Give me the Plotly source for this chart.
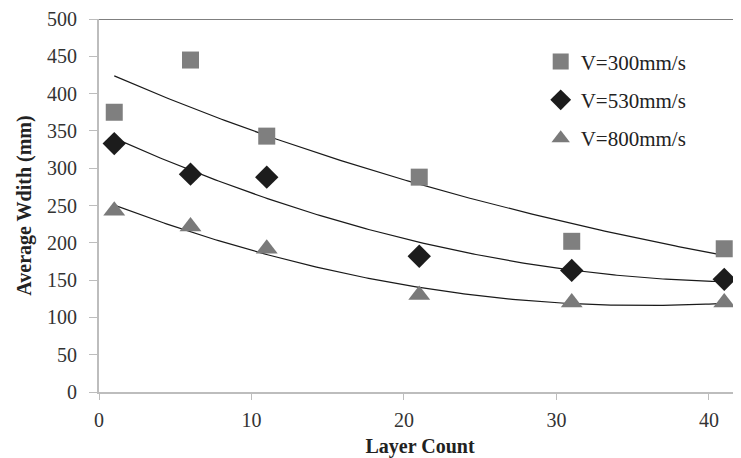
import numpy as np
import plotly.graph_objects as go

layers = [1, 6, 11, 21, 31, 41]
v300 = [375, 445, 343, 288, 202, 192]
v530 = [333, 292, 288, 182, 163, 151]
v800 = [243, 222, 192, 130, 120, 120]

names = ["V=300mm/s", "V=530mm/s", "V=800mm/s"]
series = [v300, v530, v800]
fit_types = ["exp", "poly2", "poly2"]
symbols = ["square", "diamond", "triangle-up"]
colors = ["#7f7f7f", "#1c1c1c", "#7a7a7a"]
sizes = [17, 18, 19]

font_family = "Liberation Serif, Times New Roman, serif"

fig = go.Figure()

xs = np.linspace(min(layers), max(layers), 200)
for vals, ft in zip(series, fit_types):
    if ft == "exp":
        c = np.polyfit(layers, np.log(vals), 1)
        ys = np.exp(np.polyval(c, xs))
    else:
        c = np.polyfit(layers, vals, 2)
        ys = np.polyval(c, xs)
    fig.add_trace(go.Scatter(x=xs, y=ys, mode="lines",
                             line=dict(color="#1a1a1a", width=1.2),
                             showlegend=False, hoverinfo="skip"))

for i, (n, vals, s, col, sz) in enumerate(zip(names, series, symbols, colors, sizes)):
    fig.add_trace(go.Scatter(x=layers, y=vals, mode="markers", name=n,
                             legendgroup=f"g{i}",
                             marker=dict(symbol=s, color=col, size=sz,
                                         line=dict(width=0))))

# the page body has an 8px margin, so the figure is 8px smaller on each side
fig.update_layout(
    width=733, height=450,
    margin=dict(l=91, r=0, t=11, b=66, autoexpand=False),
    paper_bgcolor="white", plot_bgcolor="white",
    font=dict(family=font_family, size=20, color="#333333"),
    legend=dict(x=0.688, y=0.94, xanchor="left", yanchor="top",
                font=dict(size=21, color="#222222"),
                bgcolor="rgba(0,0,0,0)", traceorder="grouped",
                tracegroupgap=8, itemwidth=30),
    xaxis=dict(range=[0, 42.1], tickvals=[0, 10, 20, 30, 40],
               showgrid=False, zeroline=False, showline=True,
               linecolor="#bdbdbd", linewidth=2, automargin=False,
               ticks="outside", ticklen=6, tickcolor="#bdbdbd",
               ticklabelstandoff=3,
               tickfont=dict(size=20, color="#333333"),
               title=dict(text="<b>Layer Count</b>", standoff=10,
                          font=dict(size=20, color="#222222"))),
    yaxis=dict(range=[0, 500], tickvals=list(range(0, 501, 50)),
               showgrid=False, zeroline=False, showline=True,
               linecolor="#bdbdbd", linewidth=2, automargin=False,
               ticks="outside", ticklen=8, tickcolor="#bdbdbd",
               ticklabelstandoff=8,
               tickfont=dict(size=20, color="#333333"),
               title=dict(text="<b>Average Wdith (mm)</b>", standoff=10,
                          font=dict(size=20, color="#222222"))),
)

fig.add_shape(type="line", xref="paper", yref="y", x0=0, x1=1, y0=500, y1=500,
              line=dict(color="#555555", width=1.5))

fig.write_html("out.html")
